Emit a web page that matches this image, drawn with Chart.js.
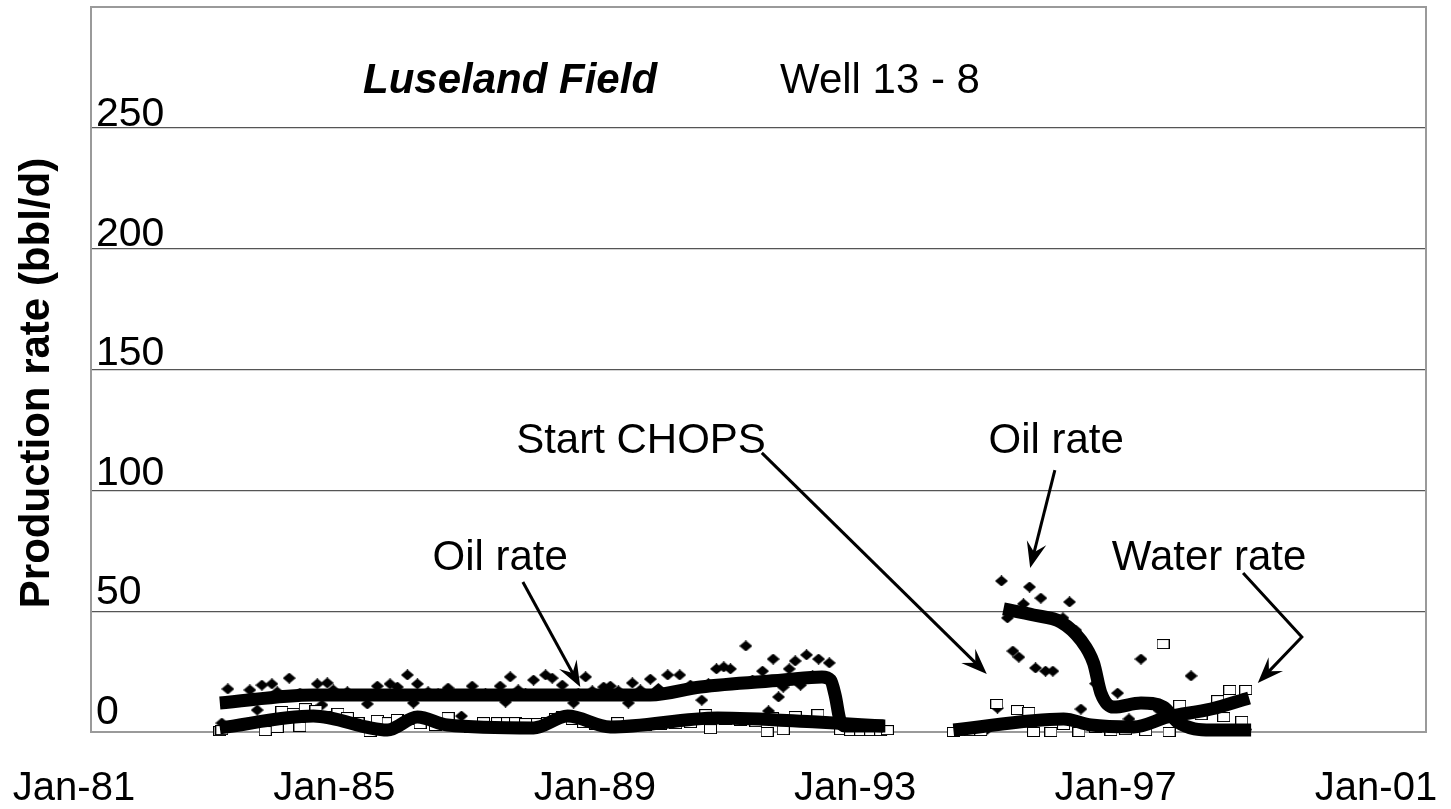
<!DOCTYPE html>
<html>
<head>
<meta charset="utf-8">
<title>Luseland Field - Well 13-8</title>
<script src="https://cdn.jsdelivr.net/npm/chart.js@4.4.1/dist/chart.umd.min.js"></script>
<style>
  html, body { margin: 0; padding: 0; background: #fff; }
  canvas { display: block; }
</style>
</head>
<body>
<canvas id="chart" width="1451" height="809"></canvas>
<script>
// ---- data (decimal year, bbl/d) ----
const xTickYears  = [1981, 1985, 1989, 1993, 1997, 2001];
const xTickLabels = ['Jan-81', 'Jan-85', 'Jan-89', 'Jan-93', 'Jan-97', 'Jan-01'];
const yTickValues = [0, 50, 100, 150, 200, 250];

// monthly oil rate
const oilYears = [
  1982.96, 1983.05, 1983.38, 1983.49, 1983.56, 1983.71, 1983.79, 1983.97, 1984.13, 1984.39,
  1984.46, 1984.54, 1984.63, 1984.84, 1985.14, 1985.29, 1985.48, 1985.59, 1985.74, 1985.83,
  1985.89, 1986.05, 1986.20, 1986.35, 1986.55, 1986.71, 1986.91, 1987.13, 1987.21, 1987.28,
  1987.40, 1987.51, 1987.63, 1987.81, 1987.91, 1988.06, 1988.23, 1988.30, 1988.41, 1988.51,
  1988.68, 1988.78, 1988.90, 1989.05, 1989.11, 1989.23, 1989.38, 1989.50, 1989.64, 1989.82,
  1989.98, 1990.15, 1990.25, 1990.37, 1990.48, 1990.58, 1990.81, 1990.91, 1991.06, 1991.15,
  1991.22, 1991.30, 1991.37, 1991.46, 1991.55, 1991.63, 1991.72, 1991.81, 1991.90, 1991.99,
  1992.06, 1992.30, 1992.45, 1992.60, 1992.75, 1992.90,
  1994.00, 1994.20, 1994.40, 1994.58, 1994.64, 1994.73, 1994.81, 1994.90, 1994.97, 1995.06,
  1995.15, 1995.23, 1995.30, 1995.41, 1995.56, 1995.66, 1995.75, 1995.83, 1996.05, 1996.38,
  1996.55, 1996.73, 1997.00, 1997.48, 1997.70, 1998.00, 1998.30
];
const oilRates = [
  3.7, 17.8, 17.4, 9.1, 19.4, 19.9, 16.6, 22.3, 16.1, 19.9,
  11.2, 20.3, 17.4, 16.6, 11.6, 19.0, 19.9, 18.6, 23.6, 12.0,
  19.9, 16.6, 15.8, 18.2, 6.6, 19.0, 16.0, 19.0, 12.4, 22.8,
  17.4, 16.0, 21.5, 23.6, 22.3, 19.4, 12.0, 16.0, 22.8, 17.0,
  18.6, 19.0, 17.0, 12.0, 20.3, 17.4, 21.9, 18.0, 23.6, 23.6,
  19.4, 13.2, 20.0, 26.1, 26.9, 26.1, 35.6, 21.5, 25.2, 8.7,
  30.2, 14.5, 18.6, 26.1, 29.4, 19.4, 31.9, 23.2, 30.2, 22.3,
  28.6, 0.8, 0.5, 0.5, 0.5, 0.5,
  0.5, 0.5, 0.5, 9.9, 62.5, 47.2, 33.5, 31.0, 53.0, 60.0,
  26.5, 55.4, 25.2, 25.2, 47.2, 53.8, 42.2, 9.5, 20.0, 16.1,
  5.4, 30.2, 9.0, 23.2, 1.0, 1.0, 1.0
];

// monthly water rate
const waterYears = [
  1982.93, 1982.96, 1983.61, 1983.79, 1983.86, 1984.03, 1984.13, 1984.21, 1984.37, 1984.55,
  1984.70, 1984.84, 1985.00, 1985.18, 1985.29, 1985.45, 1985.59, 1985.75, 1985.93, 1986.16,
  1986.35, 1986.53, 1986.68, 1986.88, 1987.09, 1987.24, 1987.36, 1987.51, 1987.69, 1987.84,
  1987.96, 1988.06, 1988.21, 1988.38, 1988.56, 1988.71, 1988.89, 1989.08, 1989.31, 1989.53,
  1989.76, 1989.98, 1990.21, 1990.28, 1990.51, 1990.73, 1990.96, 1991.13, 1991.21, 1991.37,
  1991.55, 1991.70, 1991.89, 1992.05, 1992.23, 1992.38, 1992.53, 1992.68, 1992.83, 1992.93,
  1993.92, 1994.03, 1994.18, 1994.33, 1994.57, 1994.88, 1995.05, 1995.12, 1995.38, 1995.57,
  1995.80, 1996.05, 1996.28, 1996.50, 1996.80, 1997.06, 1997.15, 1997.31, 1997.63, 1997.88,
  1997.97, 1998.06, 1998.24, 1998.30
];
const waterRates = [
  0.4, 0.8, 0.4, 1.7, 8.7, 7.9, 2.1, 9.9, 9.1, 6.6,
  7.9, 6.2, 4.1, 0.0, 5.0, 4.1, 5.4, 5.0, 3.3, 2.5,
  6.2, 2.1, 1.7, 4.1, 4.1, 4.1, 4.1, 3.7, 3.7, 4.1,
  5.8, 6.6, 5.0, 3.7, 2.9, 2.5, 4.1, 2.9, 2.5, 2.9,
  3.3, 3.7, 7.4, 1.2, 5.0, 4.6, 4.1, 0.0, 6.2, 0.8,
  6.6, 4.1, 7.4, 4.1, 0.8, 0.4, 0.4, 0.4, 0.4, 0.8,
  0.0, 0.4, 0.4, 0.4, 11.6, 9.1, 8.3, 0.0, 0.0, 2.9,
  0.0, 1.7, 0.4, 0.8, 0.4, 36.4, 0.0, 11.2, 7.0, 13.2,
  6.2, 17.4, 4.6, 17.4
];

// smoothed trend curves, one per production period
const oilTrend1Years = [1982.93, 1984.33, 1986.83, 1989.38, 1990.13, 1991.37, 1991.95, 1992.08, 1992.15, 1992.22, 1992.30, 1992.90];
const oilTrend1Rates = [12.0, 15.3, 15.3, 15.3, 18.6, 21.5, 22.8, 21.5, 15.0, 5.0, 2.5, 2.5];
const oilTrend2Years = [1994.67, 1995.12, 1995.53, 1995.83, 1996.02, 1996.13, 1996.32, 1996.73, 1997.07, 1997.28, 1997.78, 1998.38];
const oilTrend2Rates = [50.9, 48.4, 45.5, 38.0, 28.5, 16.1, 10.3, 12.0, 10.3, 4.1, 0.8, 0.8];
const waterTrend1Years = [1982.93, 1984.33, 1985.44, 1985.89, 1986.34, 1987.63, 1988.14, 1988.78, 1990.39, 1991.88, 1992.87];
const waterTrend1Rates = [1.7, 6.6, 0.8, 6.2, 2.9, 1.7, 6.6, 2.1, 5.8, 4.1, 2.5];
const waterTrend2Years = [1993.92, 1995.57, 1995.98, 1996.62, 1997.13, 1997.78, 1998.35];
const waterTrend2Rates = [0.8, 5.4, 2.9, 2.1, 6.2, 9.5, 14.1];

// callout labels with arrows, anchored in data units
const callouts = [
  { text: 'Oil rate',    at: [1987.13, 67.0],  path: [[1987.47, 62.1], [1988.33, 18.6]] },
  { text: 'Start CHOPS', at: [1989.24, 115.5], path: [[1991.05, 115.5], [1994.42, 24.0]] },
  { text: 'Oil rate',    at: [1995.46, 115.5], path: [[1995.44, 108.4], [1995.07, 67.9]] },
  { text: 'Water rate',  at: [1997.75, 67.0],  path: [[1998.26, 65.8], [1999.14, 39.3], [1998.48, 20.3]] }
];

// ---- rendering ----
const FONT = '"Liberation Sans", Arial, Helvetica, sans-serif';

function pts(xs, ys) { return xs.map((x, i) => ({ x: x, y: ys[i] })); }

function diamondMarker() {
  const c = document.createElement('canvas');
  c.width = 13; c.height = 11;
  const g = c.getContext('2d');
  g.fillStyle = '#000';
  g.beginPath();
  g.moveTo(6.5, 0); g.lineTo(13, 5.5); g.lineTo(6.5, 11); g.lineTo(0, 5.5);
  g.closePath(); g.fill();
  return c;
}
function boxMarker() {
  const c = document.createElement('canvas');
  c.width = 13; c.height = 10;
  const g = c.getContext('2d');
  g.fillStyle = '#fff';
  g.fillRect(0, 0, 13, 10);
  g.strokeStyle = '#000';
  g.lineWidth = 1;
  g.strokeRect(0.5, 0.5, 12, 9);
  return c;
}

function trend(xs, ys) {
  return {
    type: 'scatter', data: pts(xs, ys), showLine: true,
    borderColor: '#000', borderWidth: 13, borderCapStyle: 'butt', borderJoinStyle: 'round',
    cubicInterpolationMode: 'monotone', pointRadius: 0, pointHoverRadius: 0,
    order: 0, clip: false
  };
}

function arrowHead(ctx, x, y, ang) {
  const L = 26, W = 10;
  ctx.save();
  ctx.translate(x, y);
  ctx.rotate(ang);
  ctx.beginPath();
  ctx.moveTo(0, 0);
  ctx.lineTo(-L, -W);
  ctx.lineTo(-L * 0.62, 0);
  ctx.lineTo(-L, W);
  ctx.closePath();
  ctx.fill();
  ctx.restore();
}

const decor = {
  id: 'decor',
  beforeDatasetsDraw(chart) {
    const { ctx, chartArea: a } = chart;
    ctx.save();
    ctx.strokeStyle = '#9a9a9a';
    ctx.lineWidth = 2;
    ctx.strokeRect(a.left, a.top, a.right - a.left, a.bottom - a.top);
    ctx.restore();
  },
  afterDatasetsDraw(chart) {
    const { ctx, chartArea: a } = chart;
    const xs = chart.scales.x, ys = chart.scales.y;
    ctx.save();
    ctx.fillStyle = '#000';
    ctx.strokeStyle = '#000';

    // value labels sit inside the plot, just above their grid lines
    ctx.font = '41px ' + FONT;
    ctx.textAlign = 'left';
    ctx.textBaseline = 'alphabetic';
    yTickValues.forEach(v => {
      ctx.fillText(String(v), a.left + 5, ys.getPixelForValue(v * 0.99) - 8);
    });

    // date labels
    ctx.font = '40px ' + FONT;
    ctx.textAlign = 'center';
    xTickYears.forEach((yr, i) => {
      const px = xs.getPixelForValue(1981 + (yr - 1981) * 0.9753) - 17;
      ctx.fillText(xTickLabels[i], px, 800);
    });

    // axis title
    ctx.save();
    ctx.font = 'bold 42px ' + FONT;
    ctx.translate(37, 383);
    ctx.rotate(-Math.PI / 2);
    ctx.textBaseline = 'middle';
    ctx.fillText('Production rate (bbl/d)', 0, 0);
    ctx.restore();

    // chart title
    ctx.textAlign = 'left';
    ctx.font = 'italic bold 42px ' + FONT;
    ctx.fillText('Luseland Field', 363, 93);
    ctx.font = '42px ' + FONT;
    ctx.fillText('Well 13 - 8', 780, 93);

    // callouts
    ctx.lineWidth = 3;
    ctx.lineCap = 'butt';
    ctx.lineJoin = 'miter';
    ctx.font = '42px ' + FONT;
    ctx.textAlign = 'center';
    callouts.forEach(c => {
      ctx.fillText(c.text, xs.getPixelForValue(c.at[0]), ys.getPixelForValue(c.at[1]));
      const p = c.path.map(q => [xs.getPixelForValue(q[0]), ys.getPixelForValue(q[1])]);
      const n = p.length;
      const ang = Math.atan2(p[n - 1][1] - p[n - 2][1], p[n - 1][0] - p[n - 2][0]);
      ctx.beginPath();
      ctx.moveTo(p[0][0], p[0][1]);
      for (let i = 1; i < n - 1; i++) ctx.lineTo(p[i][0], p[i][1]);
      ctx.lineTo(p[n - 1][0] - Math.cos(ang) * 14, p[n - 1][1] - Math.sin(ang) * 14);
      ctx.stroke();
      arrowHead(ctx, p[n - 1][0], p[n - 1][1], ang);
    });
    ctx.restore();
  }
};

new Chart(document.getElementById('chart'), {
  type: 'scatter',
  data: {
    datasets: [
      { label: 'Oil rate', data: pts(oilYears, oilRates), pointStyle: diamondMarker(),
        pointRadius: 6, pointHoverRadius: 6, showLine: false, order: 2, clip: false },
      { label: 'Water rate', data: pts(waterYears, waterRates), pointStyle: boxMarker(),
        pointRadius: 6, pointHoverRadius: 6, showLine: false, order: 1, clip: false },
      Object.assign(trend(oilTrend1Years, oilTrend1Rates), { label: 'Oil trend' }),
      Object.assign(trend(oilTrend2Years, oilTrend2Rates), { label: 'Oil trend (CHOPS)' }),
      Object.assign(trend(waterTrend1Years, waterTrend1Rates), { label: 'Water trend' }),
      Object.assign(trend(waterTrend2Years, waterTrend2Rates), { label: 'Water trend (CHOPS)' })
    ]
  },
  options: {
    responsive: false,
    animation: false,
    devicePixelRatio: 1,
    layout: { padding: { left: 91, right: 25, top: 7, bottom: 77 } },
    plugins: { legend: { display: false }, tooltip: { enabled: false } },
    events: [],
    scales: {
      x: {
        type: 'linear', min: 1981, max: 2001,
        grid: { display: false, drawTicks: false },
        border: { display: false },
        ticks: { display: false }
      },
      y: {
        type: 'linear', min: 0, max: 300,
        grid: {
          drawTicks: false, lineWidth: 1.3,
          color: ctx => (ctx.tick.value > 0 && ctx.tick.value < 300) ? '#555555' : 'rgba(0,0,0,0)'
        },
        border: { display: false },
        ticks: { display: false, stepSize: 50 }
      }
    }
  },
  plugins: [decor]
});
</script>
</body>
</html>
